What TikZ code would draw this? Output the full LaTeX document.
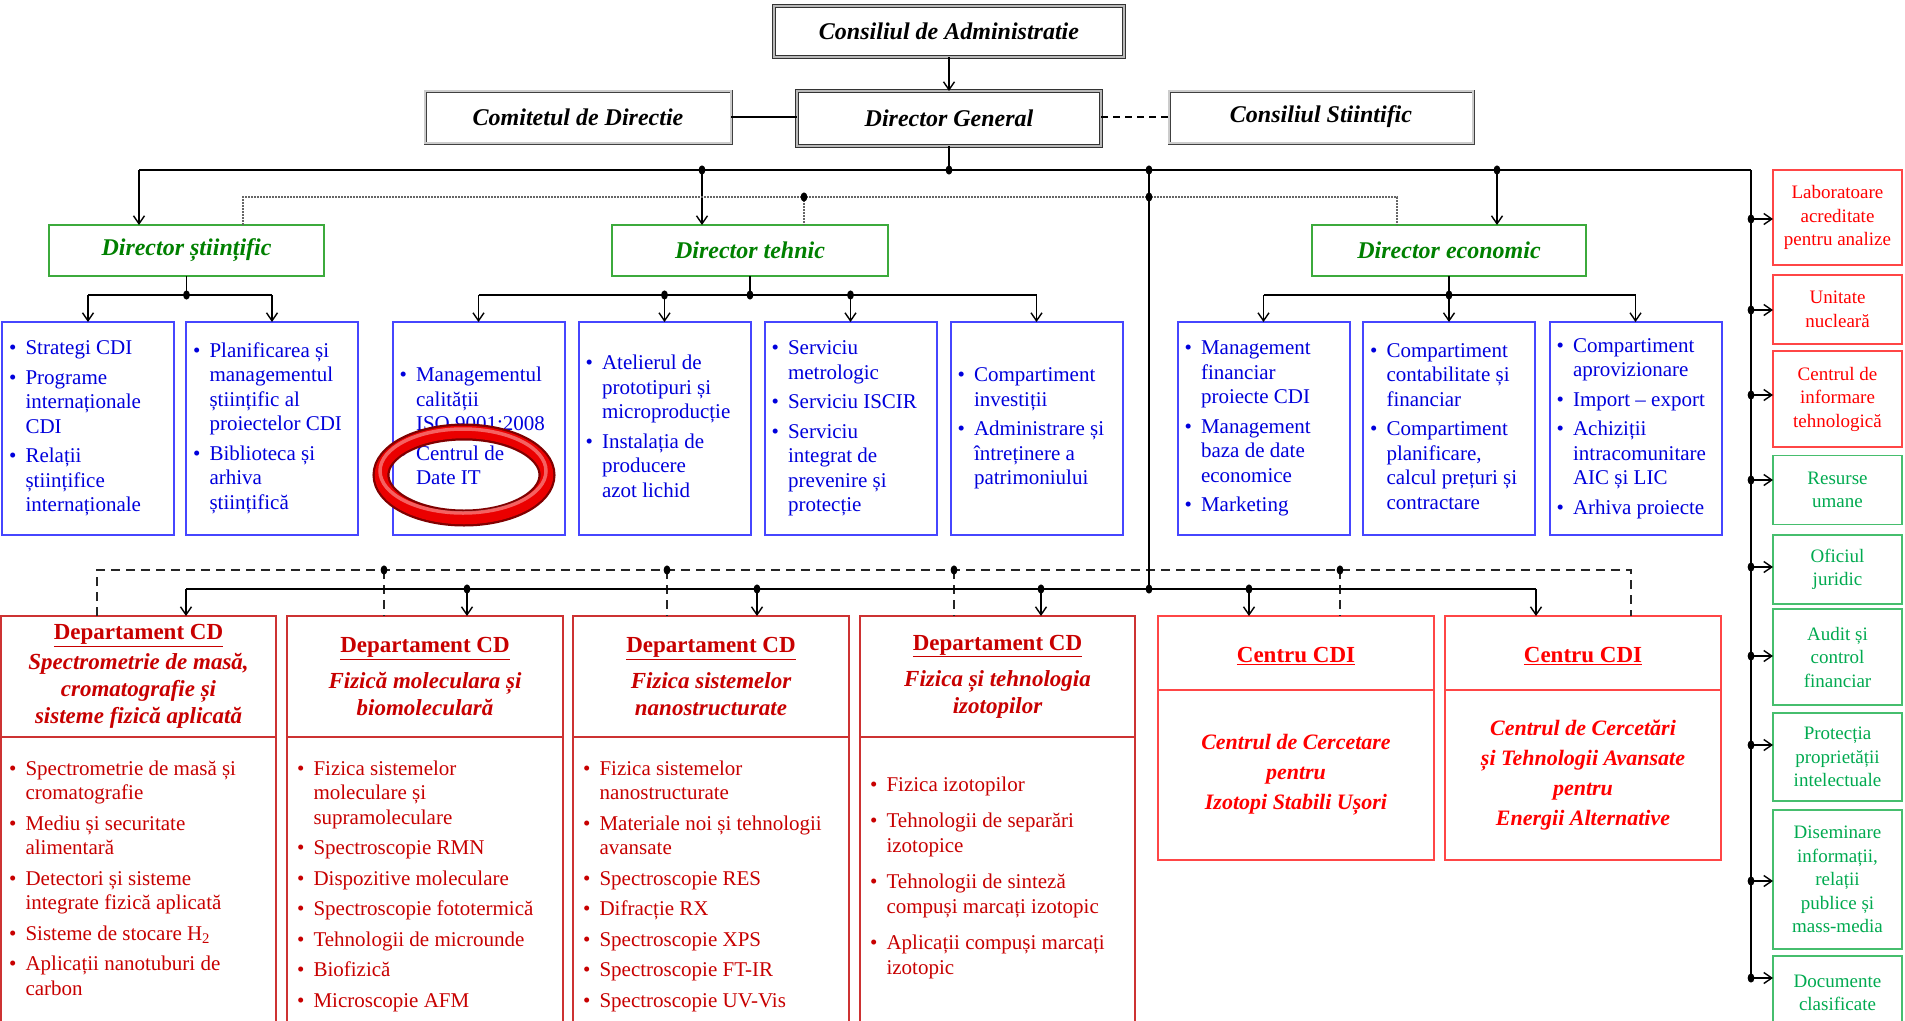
\documentclass[tikz,border=0pt]{standalone}
\usepackage{fontspec}
\setmainfont{Liberation Serif}
\usetikzlibrary{arrows.meta,calc}

\definecolor{bluetxt}{RGB}{0,0,220}
\definecolor{blueln}{RGB}{70,70,255}
\definecolor{grntxt}{RGB}{0,128,0}
\definecolor{grnln}{RGB}{60,170,60}
\definecolor{deptxt}{RGB}{200,0,0}
\definecolor{depln}{RGB}{205,50,50}
\definecolor{redtxt}{RGB}{255,0,0}
\definecolor{redln}{RGB}{255,70,70}
\definecolor{rgtxt}{RGB}{0,170,80}
\definecolor{rgln}{RGB}{70,190,110}

\newcommand\FBody{\fontsize{21}{24.5}\selectfont}
\newcommand\FHead{\fontsize{23}{27}\selectfont}
\newcommand\FRight{\fontsize{19}{23.5}\selectfont}
\newcommand\FTop{\fontsize{24}{28}\selectfont\bfseries\itshape}
\newcommand\BL{\textbullet}
\newcommand\jdot[1]{\fill (#1) ellipse [x radius=3.4pt, y radius=4.6pt];}

\tikzset{
  box/.style={rectangle, inner sep=0pt, outer sep=0pt},
  topbox/.style={box, draw=black!80, double=gray!55, double distance=2.6pt, line width=0.9pt, font=\FTop},
  sidebox/.style={box, draw=black!75, double=gray!40, double distance=1.4pt, line width=0.8pt, font=\FTop},
  dirbox/.style={box, draw=grnln, line width=1.8pt, text=grntxt, font=\FTop},
  bluebox/.style={box, draw=blueln, line width=2pt, minimum width=172pt, minimum height=213pt},
  btxt/.style={inner sep=0pt, text=bluetxt, font=\FBody},
  depbox/.style={box, draw=depln, line width=2pt, minimum width=275pt, minimum height=424pt},
  cdibox/.style={box, draw=redln, line width=2pt, minimum width=276pt, minimum height=244pt},
  dtxt/.style={inner sep=0pt, text=deptxt, font=\FBody},
  dhead/.style={inner sep=0pt, text=deptxt, font=\FHead\bfseries\itshape, align=center},
  chead/.style={inner sep=0pt, text=redtxt, font=\FHead\bfseries\itshape, align=center},
  rbox/.style={box, draw=redln, line width=1.6pt, minimum width=129pt, text=redtxt, font=\FRight, align=center},
  gbox/.style={box, draw=rgln, line width=1.6pt, minimum width=129pt, text=rgtxt, font=\FRight, align=center},
  conn/.style={line width=1.5pt, black},
  bus/.style={line width=2.2pt, black},
  arr/.style={line width=1.4pt, black, -{Straight Barb[length=8pt,width=11pt]}},
  dotl/.style={line width=2pt, black!60, densely dotted},
  dashl/.style={line width=1.6pt, black!85, dash pattern=on 9pt off 6pt},
}

\begin{document}
\begin{tikzpicture}[x=1pt,y=-1pt]
\path[use as bounding box] (0,0) rectangle (1905,1020);
\clip (0,0) rectangle (1905,1020);
\fill[white] (0,0) rectangle (1905,1020);

% ---------- top level ----------
\node[topbox, minimum width=350pt, minimum height=51pt] (CA) at (949,31.5) {Consiliul de Administratie};
\node[sidebox, minimum width=306pt, minimum height=52pt] (CD) at (578,117) {Comitetul de Directie};
\node[topbox, minimum width=304pt, minimum height=55pt] (DG) at (949,118.5) {Director General};
\node[sidebox, minimum width=304pt, minimum height=52pt] (CS) at (1321,117) {Consiliul Stiintific};

\draw[arr] (CA.south) -- (DG.north);
\draw[conn] (CD.east) -- (CD.east -| DG.west);
\draw[conn, dashed, dash pattern=on 7pt off 5pt] (DG.east |- CS.west) -- (CS.west);

% ---------- directors ----------
\node[dirbox, minimum width=275pt, minimum height=51pt] (DS) at (186.5,250.5) {Director științific};
\node[dirbox, minimum width=276pt, minimum height=51pt] (DT) at (750,250.5) {Director tehnic};
\node[dirbox, minimum width=274pt, minimum height=51pt] (DE) at (1449,250.5) {Director economic};

\coordinate (J0) at (949,170);
\coordinate (BL) at (139,170);
\coordinate (BR) at (1751,170);
\coordinate (JT) at (702,170);
\coordinate (JV) at (1149,170);
\coordinate (JE) at (1497,170);
\draw[bus] (DG.south) -- (J0);
\draw[bus] (BL) -- (BR);
\draw[arr] (BL) -- (BL |- DS.north);
\draw[arr] (JT) -- (JT |- DT.north);
\draw[arr] (JE) -- (JE |- DE.north);
\foreach \c in {J0,JT,JV,JE} {\jdot{\c}}

% dotted bus
\coordinate (DL) at (243,197);
\coordinate (DR) at (1397,197);
\coordinate (DM) at (804,197);
\coordinate (DV) at (1149,197);
\draw[dotl] (DL |- DS.north) -- (DL) -- (DR) -- (DR |- DE.north);
\draw[dotl] (DM) -- (DM |- DT.north);
\jdot{DM}\jdot{DV}

% ---------- blue boxes ----------
\node[bluebox] (B1) at (88,428.5) {};
\node[bluebox] (B2) at (272,428.5) {};
\node[bluebox] (B3) at (478.5,428.5) {};
\node[bluebox] (B4) at (664.5,428.5) {};
\node[bluebox] (B5) at (850.5,428.5) {};
\node[bluebox] (B6) at (1036.5,428.5) {};
\node[bluebox] (B7) at (1263.5,428.5) {};
\node[bluebox] (B8) at (1449,428.5) {};
\node[bluebox] (B9) at (1635.5,428.5) {};

\coordinate (y295) at (0,295);
% DS group
\draw[conn] (DS.south) -- (DS.south |- y295);
\draw[conn] (B1.north |- y295) -- (B2.north |- y295);
\draw[arr] (B1.north |- y295) -- (B1.north);
\draw[arr] (B2.north |- y295) -- (B2.north);
\jdot{DS.south |- y295}
% DT group
\draw[conn] (DT.south) -- (DT.south |- y295);
\draw[conn] (B3.north |- y295) -- (B6.north |- y295);
\foreach \b in {B3,B4,B5,B6} {\draw[arr] (\b.north |- y295) -- (\b.north);}
\jdot{DT.south |- y295}\jdot{B4.north |- y295}\jdot{B5.north |- y295}
% DE group
\draw[conn] (DE.south) -- (DE.south |- y295);
\draw[conn] (B7.north |- y295) -- (B9.north |- y295);
\foreach \b in {B7,B8,B9} {\draw[arr] (\b.north |- y295) -- (\b.north);}
\jdot{DE.south |- y295}

% blue texts
\node[btxt, anchor=west] (T1) at ([xshift=7pt]B1.west) {\begin{tabular}{@{}l@{\hspace{9pt}}l@{}}
\BL & Strategi CDI\\[5pt]
\BL & Programe\\ & internaționale\\ & CDI\\[5pt]
\BL & Relații\\ & științifice\\ & internaționale\end{tabular}};
\node[btxt, anchor=west] (T2) at ([xshift=7pt]B2.west) {\begin{tabular}{@{}l@{\hspace{9pt}}l@{}}
\BL & Planificarea și\\ & managementul\\ & științific al\\ & proiectelor CDI\\[5pt]
\BL & Biblioteca și\\ & arhiva\\ & științifică\end{tabular}};
\node[btxt, anchor=west] (T3) at ([xshift=7pt]B3.west) {\begin{tabular}{@{}l@{\hspace{9pt}}l@{}}
\BL & Managementul\\ & calității\\ & ISO 9001:2008\\[5pt]
\BL & Centrul de\\ & Date IT\end{tabular}};
\node[btxt, anchor=west] (T4) at ([xshift=7pt]B4.west) {\begin{tabular}{@{}l@{\hspace{9pt}}l@{}}
\BL & Atelierul de\\ & prototipuri și\\ & microproducție\\[5pt]
\BL & Instalația de\\ & producere\\ & azot lichid\end{tabular}};
\node[btxt, anchor=west] (T5) at ([xshift=7pt]B5.west) {\begin{tabular}{@{}l@{\hspace{9pt}}l@{}}
\BL & Serviciu\\ & metrologic\\[5pt]
\BL & Serviciu ISCIR\\[5pt]
\BL & Serviciu\\ & integrat de\\ & prevenire și\\ & protecție\end{tabular}};
\node[btxt, anchor=west] (T6) at ([xshift=7pt]B6.west) {\begin{tabular}{@{}l@{\hspace{9pt}}l@{}}
\BL & Compartiment\\ & investiții\\[5pt]
\BL & Administrare și\\ & întreținere a\\ & patrimoniului\end{tabular}};
\node[btxt, anchor=west] (T7) at ([xshift=7pt]B7.west) {\begin{tabular}{@{}l@{\hspace{9pt}}l@{}}
\BL & Management\\ & financiar\\ & proiecte CDI\\[5pt]
\BL & Management\\ & baza de date\\ & economice\\[5pt]
\BL & Marketing\end{tabular}};
\node[btxt, anchor=west] (T8) at ([xshift=7pt]B8.west) {\begin{tabular}{@{}l@{\hspace{9pt}}l@{}}
\BL & Compartiment\\ & contabilitate și\\ & financiar\\[5pt]
\BL & Compartiment\\ & planificare,\\ & calcul prețuri și\\ & contractare\end{tabular}};
\node[btxt, anchor=west] (T9) at ([xshift=7pt]B9.west) {\begin{tabular}{@{}l@{\hspace{9pt}}l@{}}
\BL & Compartiment\\ & aprovizionare\\[5pt]
\BL & Import -- export\\[5pt]
\BL & Achiziții\\ & intracomunitare\\ & AIC și LIC\\[5pt]
\BL & Arhiva proiecte\end{tabular}};

% red ring
\draw[line width=17pt, red!50!black] (464,475) ellipse [x radius=83pt, y radius=43pt];
\draw[line width=12.5pt, red!92!black] (464,475) ellipse [x radius=83pt, y radius=43pt];
\draw[line width=3.5pt, red!30!white, opacity=0.55] (463,471) ellipse [x radius=83pt, y radius=42pt];

% ---------- departments ----------
\node[depbox, anchor=north] (D1) at (138.5,616) {};
\node[depbox, minimum width=276pt, anchor=north] (D2) at (425,616) {};
\node[depbox, minimum width=276pt, anchor=north] (D3) at (711,616) {};
\node[depbox, anchor=north] (D4) at (997.5,616) {};
\node[cdibox, anchor=north] (C1) at (1296,616) {};
\node[cdibox, anchor=north] (C2) at (1583,616) {};
\foreach \d in {D1,D2,D3,D4} {\draw[line width=2pt, depln] ([yshift=-121pt]\d.north west) -- ([yshift=-121pt]\d.north east);}
\foreach \d in {C1,C2} {\draw[line width=2pt, redln] ([yshift=-74pt]\d.north west) -- ([yshift=-74pt]\d.north east);}

% bottom buses
\coordinate (S1) at (186,589);
\coordinate (S2) at (467,589);
\coordinate (S3) at (757,589);
\coordinate (S4) at (1041,589);
\coordinate (SV) at (1149,589);
\coordinate (S5) at (1249,589);
\coordinate (S6) at (1536,589);
\coordinate (Q1) at (97,570);
\coordinate (Q2) at (384,570);
\coordinate (Q3) at (667,570);
\coordinate (Q4) at (954,570);
\coordinate (Q5) at (1340,570);
\coordinate (Q6) at (1631,570);
\draw[dashl] (Q1 |- D1.north) -- (Q1) -- (Q6) -- (Q6 |- C2.north);
\draw[dashl] (Q2) -- (Q2 |- D2.north);
\draw[dashl] (Q3) -- (Q3 |- D3.north);
\draw[dashl] (Q4) -- (Q4 |- D4.north);
\draw[dashl] (Q5) -- (Q5 |- C1.north);
\foreach \c in {Q2,Q3,Q4,Q5} {\jdot{\c}}
\draw[conn] (JV) -- (SV);
\draw[bus] (S1) -- (S6);
\draw[arr] (S1) -- (S1 |- D1.north);
\draw[arr] (S2) -- (S2 |- D2.north);
\draw[arr] (S3) -- (S3 |- D3.north);
\draw[arr] (S4) -- (S4 |- D4.north);
\draw[arr] (S5) -- (S5 |- C1.north);
\draw[arr] (S6) -- (S6 |- C2.north);
\foreach \c in {S2,S3,S4,SV,S5} {\jdot{\c}}

% department headers
\node[dhead] (H1) at ([yshift=-60.5pt]D1.north) {\textup{\underline{Departament CD}}\\[3pt] Spectrometrie de masă,\\ cromatografie și\\ sisteme fizică aplicată};
\node[dhead] (H2) at ([yshift=-60.5pt]D2.north) {\textup{\underline{Departament CD}}\\[9pt] Fizică moleculara și\\ biomoleculară};
\node[dhead] (H3) at ([yshift=-60.5pt]D3.north) {\textup{\underline{Departament CD}}\\[9pt] Fizica sistemelor\\ nanostructurate};
\node[dhead] (H4) at ([yshift=-60.5pt]D4.north) {\textup{\underline{Departament CD}}\\[9pt] Fizica și tehnologia\\ izotopilor};
\node[chead] (H5) at ([yshift=-40pt]C1.north) {\textup{\underline{Centru CDI}}};
\node[chead] (H6) at ([yshift=-40pt]C2.north) {\textup{\underline{Centru CDI}}};
\node[chead, font=\fontsize{22}{30}\selectfont\bfseries\itshape] (E5) at ([yshift=-159pt]C1.north) {Centrul de Cercetare\\ pentru\\ Izotopi Stabili Ușori};
\node[chead, font=\fontsize{22}{30}\selectfont\bfseries\itshape] (E6) at ([yshift=-159pt]C2.north) {Centrul de Cercetări\\ și Tehnologii Avansate\\ pentru\\ Energii Alternative};

% department bodies
\node[dtxt, anchor=north west] (L1) at ([xshift=8pt,yshift=-142pt]D1.north west) {\begin{tabular}{@{}l@{\hspace{9pt}}l@{}}
\BL & Spectrometrie de masă și\\ & cromatografie\\[6pt]
\BL & Mediu și securitate\\ & alimentară\\[6pt]
\BL & Detectori și sisteme\\ & integrate fizică aplicată\\[6pt]
\BL & Sisteme de stocare H\textsubscript{2}\\[6pt]
\BL & Aplicații nanotuburi de\\ & carbon\end{tabular}};
\node[dtxt, anchor=north west] (L2) at ([xshift=10pt,yshift=-142pt]D2.north west) {\begin{tabular}{@{}l@{\hspace{9pt}}l@{}}
\BL & Fizica sistemelor\\ & moleculare și\\ & supramoleculare\\[6pt]
\BL & Spectroscopie RMN\\[6pt]
\BL & Dispozitive moleculare\\[6pt]
\BL & Spectroscopie fototermică\\[6pt]
\BL & Tehnologii de microunde\\[6pt]
\BL & Biofizică\\[6pt]
\BL & Microscopie AFM\end{tabular}};
\node[dtxt, anchor=north west] (L3) at ([xshift=10pt,yshift=-142pt]D3.north west) {\begin{tabular}{@{}l@{\hspace{9pt}}l@{}}
\BL & Fizica sistemelor\\ & nanostructurate\\[6pt]
\BL & Materiale noi și tehnologii\\ & avansate\\[6pt]
\BL & Spectroscopie RES\\[6pt]
\BL & Difracție RX\\[6pt]
\BL & Spectroscopie XPS\\[6pt]
\BL & Spectroscopie FT-IR\\[6pt]
\BL & Spectroscopie UV-Vis\end{tabular}};
\node[dtxt, anchor=north west] (L4) at ([xshift=10pt,yshift=-158pt]D4.north west) {\begin{tabular}{@{}l@{\hspace{9pt}}l@{}}
\BL & Fizica izotopilor\\[12pt]
\BL & Tehnologii de separări\\ & izotopice\\[12pt]
\BL & Tehnologii de sinteză\\ & compuși marcați izotopic\\[12pt]
\BL & Aplicații compuși marcați\\ & izotopic\end{tabular}};

% ---------- right column ----------
\node[rbox, minimum height=95pt] (R1) at (1837.5,217.5) {Laboratoare\\ acreditate\\ pentru analize};
\node[rbox, minimum height=69pt] (R2) at (1837.5,309.5) {Unitate\\ nucleară};
\node[rbox, minimum height=96pt] (R3) at (1837.5,399) {Centrul de\\ informare\\ tehnologică};
\node[gbox, minimum height=69pt] (R4) at (1837.5,490) {Resurse\\ umane};
\node[gbox, minimum height=69pt] (R5) at (1837.5,569.5) {Oficiul\\ juridic};
\node[gbox, minimum height=96pt] (R6) at (1837.5,657) {Audit și\\ control\\ financiar};
\node[gbox, minimum height=88pt] (R7) at (1837.5,757) {Protecția\\ proprietății\\ intelectuale};
\node[gbox, minimum height=139pt] (R8) at (1837.5,879.5) {Diseminare\\ informații,\\ relații\\ publice și\\ mass-media};
\node[gbox, minimum height=74pt, anchor=north] (R9) at (1837.5,956) {Documente\\ clasificate};

\coordinate (RE) at (1751,978);
\draw[bus] (BR) -- (RE);
\foreach \r/\yy in {R1/219,R2/310,R3/395,R4/480,R5/567,R6/656,R7/745,R8/881,R9/978} {
  \coordinate (tmp) at (1751,\yy);
  \draw[arr] (tmp) -- (tmp -| \r.west);
  \jdot{tmp}
}
\end{tikzpicture}
\end{document}
